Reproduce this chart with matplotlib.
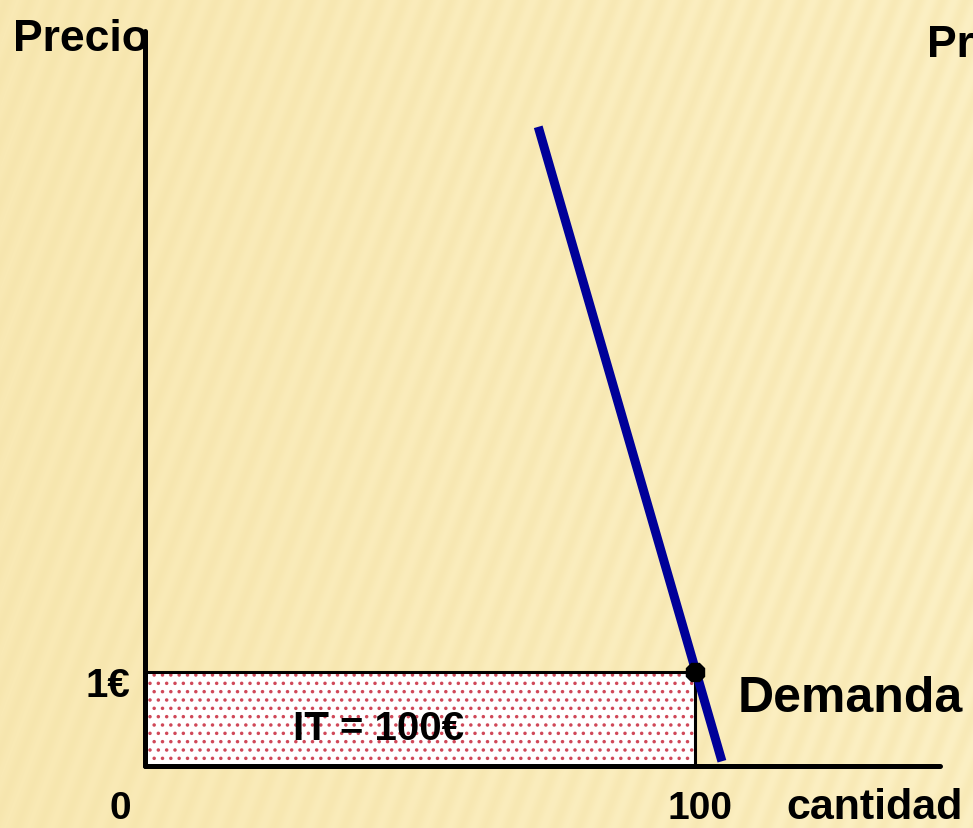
import numpy as np
import matplotlib.pyplot as plt
from matplotlib.patches import Rectangle

# datos del gráfico
precio_eq = 1.0
cantidad_eq = 100
ingreso_total = precio_eq * cantidad_eq
demanda_q = [71.5, 104.9]
demanda_p = [6.80, 0.05]
eje_q_max = 144.5
eje_p_max = 7.82

fuente = ['Liberation Sans', 'DejaVu Sans']
plt.rcParams['hatch.linewidth'] = 1.3

fig = plt.figure(figsize=(9.73, 8.29), dpi=100)
ax = fig.add_axes([0, 0, 1, 1])
x0, x1 = -26.36, 150.55
y0, y1 = -0.66, 8.16
ax.set_xlim(x0, x1)
ax.set_ylim(y0, y1)
ax.axis('off')

# fondo amarillo con rayas diagonales
h, w = 829, 973
yy, xx = np.mgrid[0:h, 0:w]
fase = (xx * 0.94 + yy * 0.36) / 22.0
rayas = 0.5 + 0.5 * np.sin(2 * np.pi * fase)
grad = (xx / w)[..., None]
claro = np.array([252, 240, 196]) / 255 * grad + np.array([249, 233, 180]) / 255 * (1 - grad)
oscuro = np.array([243, 225, 165]) / 255
img = claro * (1 - rayas[..., None] * 0.4) + oscuro * rayas[..., None] * 0.4
ax.imshow(img, extent=[x0, x1, y0, y1], aspect='auto', zorder=0)

# rectángulo de ingreso total
ax.add_patch(Rectangle((0, 0), cantidad_eq, precio_eq, facecolor='white',
                       edgecolor='#d04858', hatch='..', linewidth=0, zorder=1))
ax.add_patch(Rectangle((0, 0), cantidad_eq, precio_eq, facecolor='none',
                       edgecolor='black', linewidth=2.2, zorder=2))

# ejes
ax.plot([0, 0], [0, eje_p_max], color='black', lw=3.6, solid_capstyle='round', zorder=3)
ax.plot([0, eje_q_max], [0, 0], color='black', lw=3.6, solid_capstyle='round', zorder=3)

# curva de demanda
ax.plot(demanda_q, demanda_p, color='#000099', lw=6.5, solid_capstyle='butt', zorder=4)
ax.plot([cantidad_eq], [precio_eq], marker='8', color='black', markersize=14, zorder=5)

# textos
kw = dict(family=fuente, fontweight='bold', color='black')
ax.text(-24.0, 7.62, 'Precio', fontsize=32, ha='left', va='baseline', zorder=2.5, **kw)
ax.text(142.2, 7.55, 'Precio', fontsize=32, ha='left', va='baseline', zorder=6, **kw)
ax.text(-10.9, 0.74, '1€', fontsize=29, ha='left', va='baseline', zorder=6, **kw)
ax.text(-2.5, -0.55, '0', fontsize=28, ha='right', va='baseline', zorder=6, **kw)
ax.text(101.0, -0.55, '100', fontsize=28, ha='center', va='baseline', zorder=6, **kw)
ax.text(116.7, -0.55, 'cantidad', fontsize=31, ha='left', va='baseline', zorder=6, **kw)
ax.text(107.8, 0.585, 'Demanda', fontsize=36, ha='left', va='baseline', zorder=6, **kw)
ax.text(42.4, 0.29, 'IT = %d€' % ingreso_total, fontsize=29, ha='center', va='baseline', zorder=6, **kw)

fig.savefig('out.png', dpi=100)
